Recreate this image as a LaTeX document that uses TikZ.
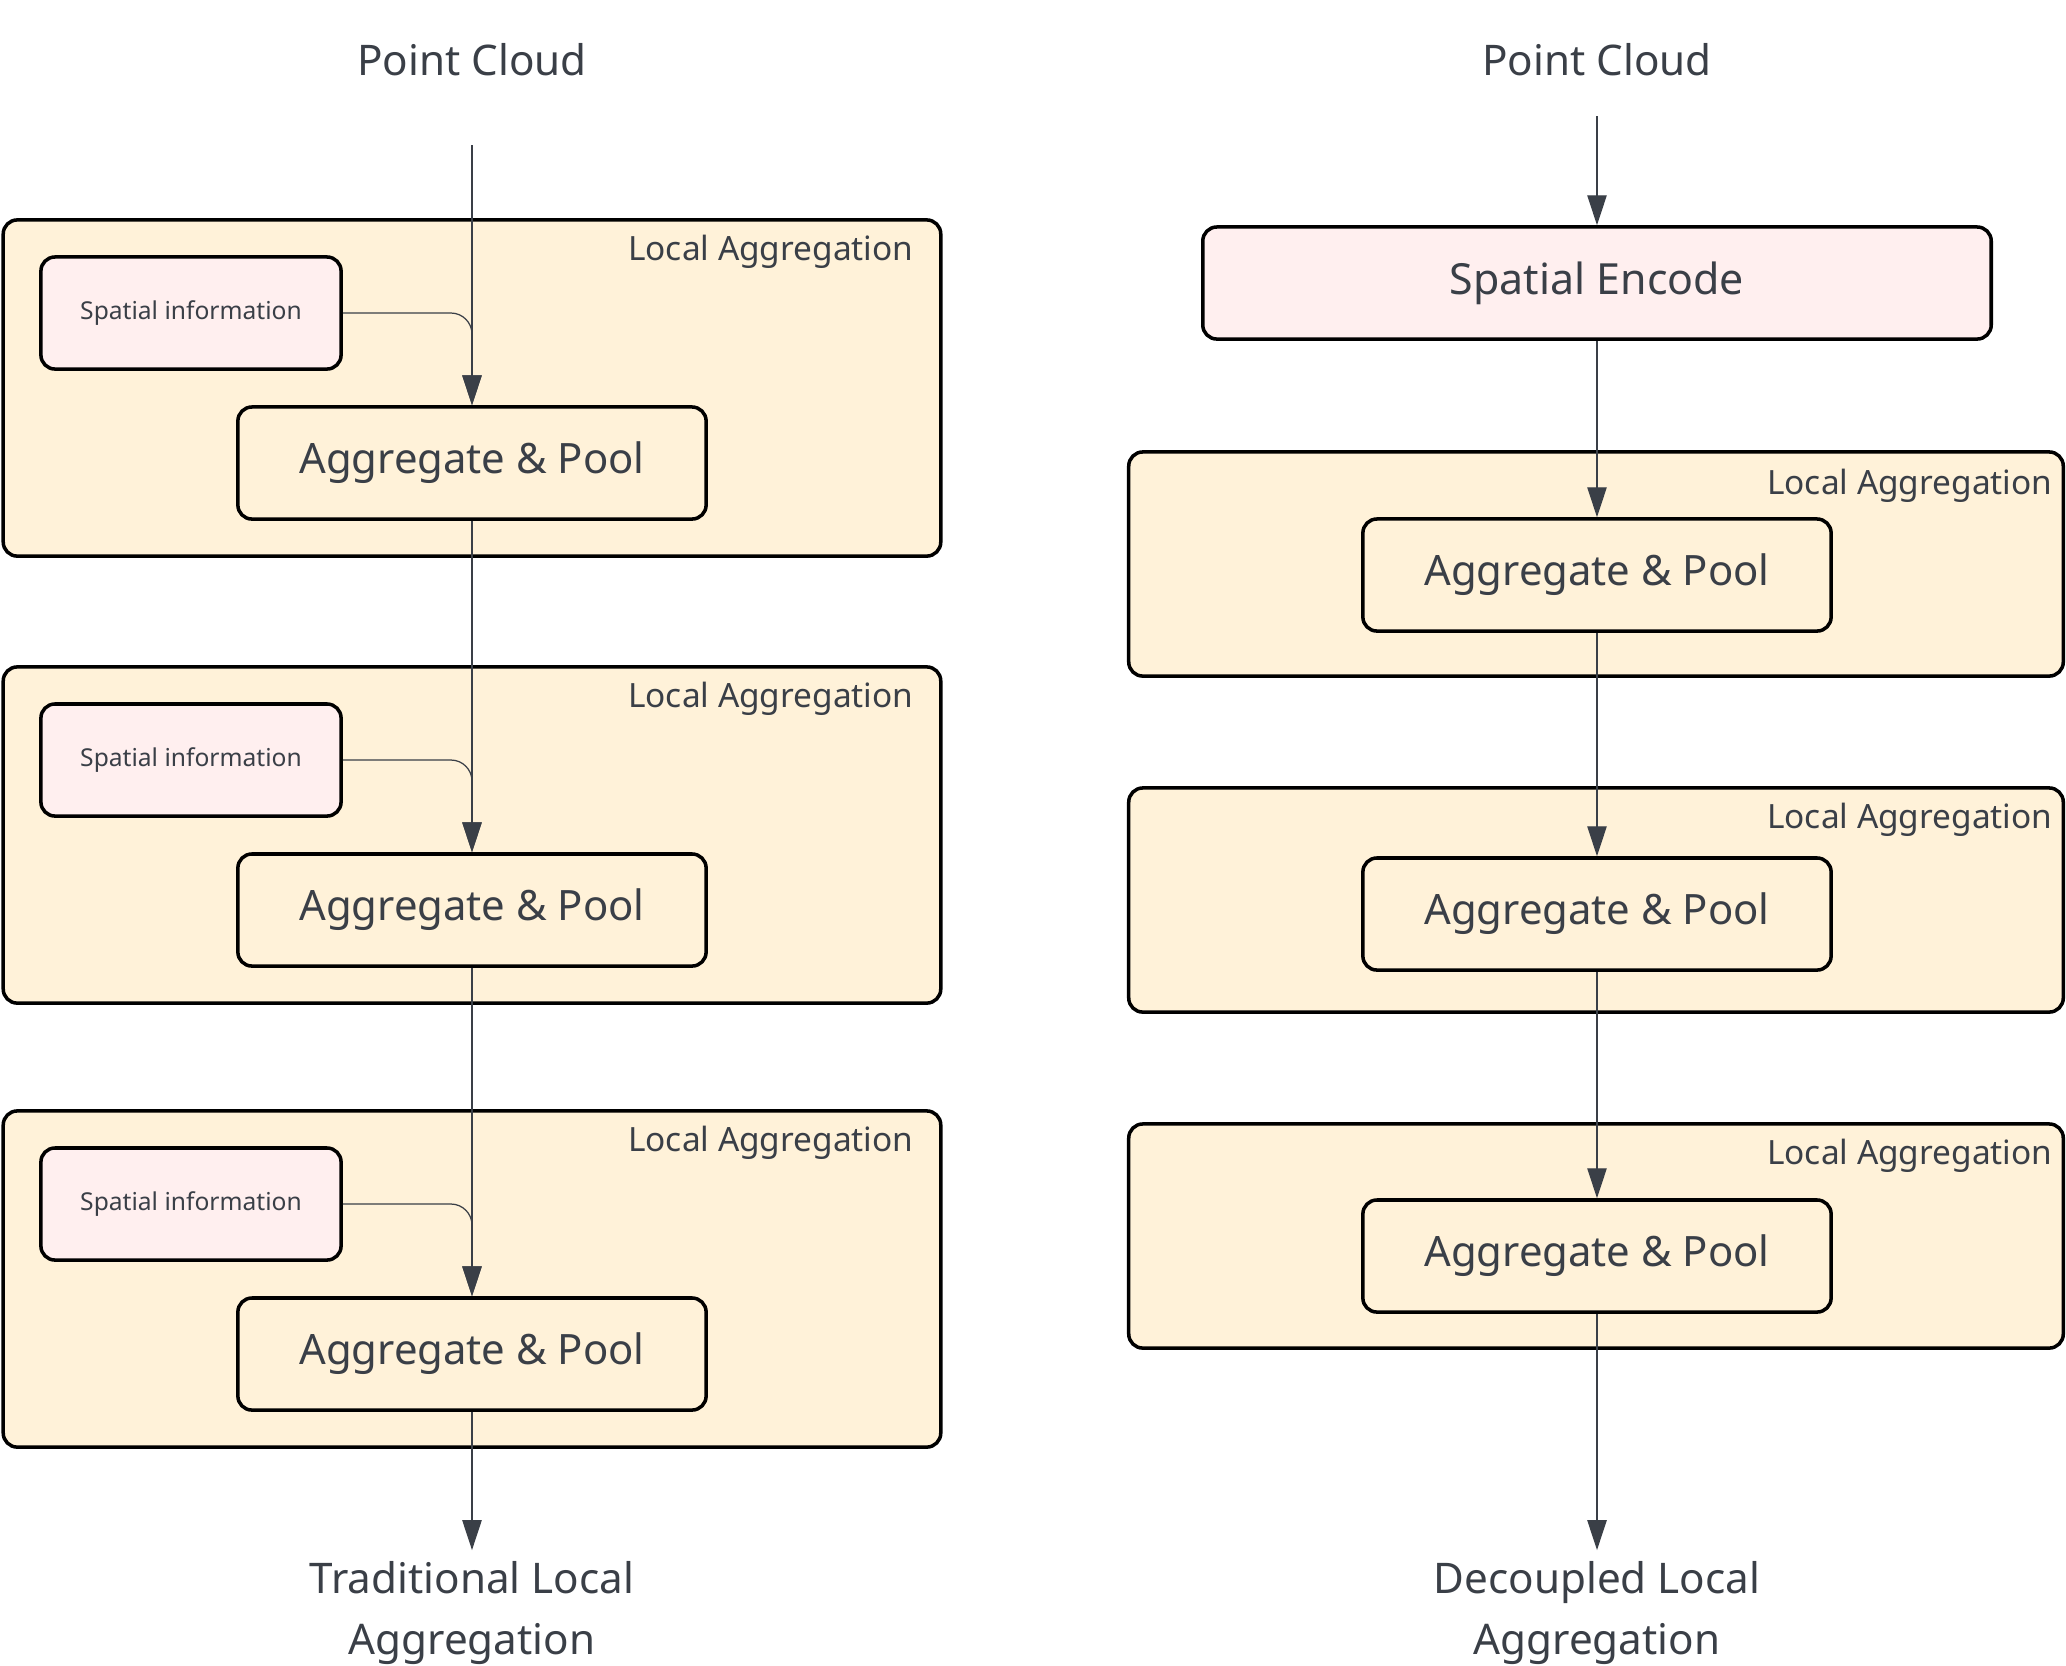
\documentclass[tikz,border=0pt]{standalone}
\usepackage{fontspec}
\setmainfont{Noto Sans}
\usetikzlibrary{arrows.meta,positioning}
\definecolor{txt}{HTML}{3A3F47}
\definecolor{cream}{HTML}{FFF2D9}
\definecolor{blush}{HTML}{FFEFEF}
\tikzset{
    grp/.style={draw=black, line width=1pt, rounded corners=4pt, fill=cream, inner sep=0pt},
    agg/.style={draw=black, line width=1pt, rounded corners=4pt, fill=cream, inner sep=0pt,
        minimum width=4.68cm, minimum height=1.12cm, text=txt, font=\fontsize{11.9}{13}\selectfont},
    spat/.style={draw=black, line width=1pt, rounded corners=4pt, fill=blush, inner sep=0pt,
        minimum width=3cm, minimum height=1.12cm, text=txt, font=\fontsize{7}{9}\selectfont},
    lbl/.style={anchor=east, inner sep=0pt, text=txt, font=\fontsize{9.5}{11}\selectfont},
    ttl/.style={inner sep=3pt, text=txt, align=center, font=\fontsize{12}{17.4}\selectfont},
    conn/.style={draw=txt, line width=0.35pt, -{Triangle[length=8.5pt,width=5.5pt]}}
}
\begin{document}
\begin{tikzpicture}[x=0.01cm, y=-0.01cm]
        \useasboundingbox (0,0) rectangle (2066,1665);
        % traditional
        \node[ttl] (pcL) at (472,60) {Point Cloud};
        \coordinate (inL) at (472,145);
        \node[grp, minimum width=9.37cm, minimum height=3.36cm] (gL1) at (472,388) {};
        \node[grp, minimum width=9.37cm, minimum height=3.36cm] (gL2) at (472,835) {};
        \node[grp, minimum width=9.37cm, minimum height=3.36cm] (gL3) at (472,1279) {};
        \node[lbl] (tL1) at (914,252) {Local Aggregation};
        \node[lbl] (tL2) at (914,699) {Local Aggregation};
        \node[lbl] (tL3) at (914,1143) {Local Aggregation};
        \node[spat] (sL1) at (191,313) {Spatial information};
        \node[spat] (sL2) at (191,760) {Spatial information};
        \node[spat] (sL3) at (191,1204) {Spatial information};
        \node[agg] (aL1) at (472,463) {Aggregate \& Pool};
        \node[agg] (aL2) at (472,910) {Aggregate \& Pool};
        \node[agg] (aL3) at (472,1354) {Aggregate \& Pool};
        \node[ttl] (oL) at (472,1613) {Traditional Local\\Aggregation};
        \draw[conn] (inL) -- (aL1.north);
        \draw[conn, rounded corners=6pt] (sL1.east) -| (aL1.north);
        \draw[conn] (aL1.south) -- (aL2.north);
        \draw[conn, rounded corners=6pt] (sL2.east) -| (aL2.north);
        \draw[conn] (aL2.south) -- (aL3.north);
        \draw[conn, rounded corners=6pt] (sL3.east) -| (aL3.north);
        \draw[conn] (aL3.south) -- (oL.north);
        % decoupled
        \node[ttl] (pcR) at (1597,60) {Point Cloud};
        \coordinate (inR) at (1597,116);
        \node[spat, minimum width=7.88cm, font=\fontsize{12.2}{14}\selectfont] (enc) at (1597,283) {Spatial Encode};
        \node[grp, minimum width=9.34cm, minimum height=2.24cm] (gR1) at (1596,564) {};
        \node[grp, minimum width=9.34cm, minimum height=2.24cm] (gR2) at (1596,900) {};
        \node[grp, minimum width=9.34cm, minimum height=2.24cm] (gR3) at (1596,1236) {};
        \node[lbl] (tR1) at (2053,486) {Local Aggregation};
        \node[lbl] (tR2) at (2053,820) {Local Aggregation};
        \node[lbl] (tR3) at (2053,1156) {Local Aggregation};
        \node[agg] (aR1) at (1597,575) {Aggregate \& Pool};
        \node[agg] (aR2) at (1597,914) {Aggregate \& Pool};
        \node[agg] (aR3) at (1597,1256) {Aggregate \& Pool};
        \node[ttl] (oR) at (1597,1613) {Decoupled Local\\Aggregation};
        \draw[conn] (inR) -- (enc.north);
        \draw[conn] (enc.south) -- (aR1.north);
        \draw[conn] (aR1.south) -- (aR2.north);
        \draw[conn] (aR2.south) -- (aR3.north);
        \draw[conn] (aR3.south) -- (oR.north);
    \end{tikzpicture}
\end{document}
